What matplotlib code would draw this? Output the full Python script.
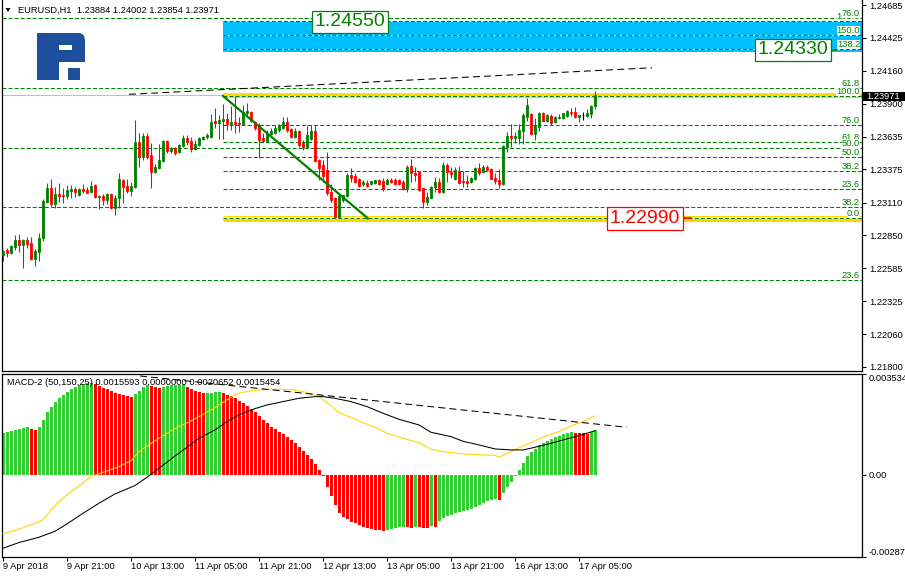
import numpy as np
import matplotlib
matplotlib.use("Agg")
import matplotlib.pyplot as plt
from matplotlib.patches import Polygon, Rectangle

plt.rcParams['font.family'] = ['Liberation Sans', 'DejaVu Sans']
plt.rcParams['lines.scale_dashes'] = False

W, H = 905, 578

# ---- EURUSD H1 candles, 9 Apr 05:00 .. 17 Apr 09:00 ----
opens = [
    1.22693, 1.22733, 1.22709, 1.22756, 1.22812, 1.22772, 1.22812, 1.22788, 1.22661, 1.22717,
    1.22828, 1.23115, 1.23227, 1.23099, 1.23179, 1.23171, 1.23163, 1.23203, 1.23219, 1.23171,
    1.23219, 1.23211, 1.23195, 1.23251, 1.23155, 1.23163, 1.23131, 1.23179, 1.23067, 1.23147,
    1.23290, 1.23243, 1.23203, 1.23235, 1.23593, 1.23474, 1.23641, 1.23490, 1.23354, 1.23386,
    1.23442, 1.23601, 1.23522, 1.23545, 1.23514, 1.23561, 1.23625, 1.23601, 1.23537, 1.23569,
    1.23617, 1.23633, 1.23633, 1.23761, 1.23745, 1.23761, 1.23776, 1.23737, 1.23753, 1.23745,
    1.23737, 1.23824, 1.23832, 1.23753, 1.23729, 1.23625, 1.23601, 1.23657, 1.23665, 1.23689,
    1.23705, 1.23753, 1.23697, 1.23633, 1.23681, 1.23585, 1.23553, 1.23617, 1.23681, 1.23450,
    1.23410, 1.23370, 1.23195, 1.23147, 1.22995, 1.23131, 1.23163, 1.23330, 1.23322, 1.23298,
    1.23258, 1.23266, 1.23258, 1.23266, 1.23290, 1.23282, 1.23258, 1.23290, 1.23290, 1.23290,
    1.23274, 1.23227, 1.23402, 1.23346, 1.23354, 1.23227, 1.23115, 1.23147, 1.23235, 1.23274,
    1.23195, 1.23410, 1.23354, 1.23298, 1.23362, 1.23282, 1.23282, 1.23274, 1.23298, 1.23386,
    1.23354, 1.23394, 1.23378, 1.23306, 1.23290, 1.23258, 1.23553, 1.23641, 1.23625, 1.23625,
    1.23681, 1.23792, 1.23816, 1.23657, 1.23713, 1.23824, 1.23761, 1.23800, 1.23753, 1.23784,
    1.23784, 1.23800, 1.23832, 1.23832, 1.23792, 1.23808, 1.23800, 1.23816, 1.23884,
]
highs = [
    1.22733, 1.22748, 1.22772, 1.22852, 1.22860, 1.22820, 1.22836, 1.22836, 1.22740, 1.22868,
    1.23139, 1.23266, 1.23298, 1.23235, 1.23266, 1.23227, 1.23251, 1.23251, 1.23235, 1.23227,
    1.23258, 1.23235, 1.23282, 1.23258, 1.23171, 1.23179, 1.23187, 1.23187, 1.23171, 1.23346,
    1.23298, 1.23298, 1.23274, 1.23769, 1.23665, 1.23665, 1.23665, 1.23585, 1.23418, 1.23577,
    1.23609, 1.23609, 1.23553, 1.23553, 1.23577, 1.23649, 1.23649, 1.23633, 1.23609, 1.23633,
    1.23641, 1.23665, 1.23816, 1.23864, 1.23808, 1.23896, 1.23824, 1.23880, 1.23960, 1.23792,
    1.23888, 1.23904, 1.23840, 1.23761, 1.23745, 1.23665, 1.23689, 1.23705, 1.23729, 1.23737,
    1.23792, 1.23792, 1.23705, 1.23705, 1.23689, 1.23609, 1.23729, 1.23729, 1.23729, 1.23458,
    1.23450, 1.23514, 1.23258, 1.23155, 1.23187, 1.23171, 1.23346, 1.23386, 1.23346, 1.23306,
    1.23290, 1.23290, 1.23282, 1.23290, 1.23298, 1.23306, 1.23306, 1.23306, 1.23306, 1.23298,
    1.23290, 1.23410, 1.23458, 1.23394, 1.23362, 1.23227, 1.23195, 1.23243, 1.23314, 1.23306,
    1.23434, 1.23426, 1.23394, 1.23394, 1.23402, 1.23362, 1.23330, 1.23314, 1.23394, 1.23426,
    1.23410, 1.23410, 1.23386, 1.23346, 1.23378, 1.23569, 1.23673, 1.23737, 1.23673, 1.23737,
    1.23824, 1.23944, 1.23824, 1.23784, 1.23832, 1.23832, 1.23816, 1.23816, 1.23800, 1.23816,
    1.23824, 1.23848, 1.23864, 1.23872, 1.23808, 1.23832, 1.23856, 1.23888, 1.24002,
]
lows = [
    1.22645, 1.22677, 1.22701, 1.22733, 1.22717, 1.22589, 1.22748, 1.22653, 1.22605, 1.22645,
    1.22804, 1.23107, 1.23083, 1.23067, 1.23115, 1.23107, 1.23139, 1.23147, 1.23155, 1.23163,
    1.23187, 1.23187, 1.23187, 1.23147, 1.23059, 1.23091, 1.23099, 1.23059, 1.23011, 1.23067,
    1.23107, 1.23187, 1.23163, 1.23227, 1.23394, 1.23450, 1.23458, 1.23227, 1.23346, 1.23378,
    1.23434, 1.23506, 1.23506, 1.23490, 1.23506, 1.23553, 1.23569, 1.23514, 1.23530, 1.23561,
    1.23609, 1.23617, 1.23625, 1.23705, 1.23617, 1.23617, 1.23689, 1.23689, 1.23665, 1.23673,
    1.23729, 1.23808, 1.23753, 1.23689, 1.23466, 1.23593, 1.23593, 1.23649, 1.23657, 1.23673,
    1.23697, 1.23673, 1.23625, 1.23625, 1.23553, 1.23530, 1.23545, 1.23609, 1.23434, 1.23290,
    1.23274, 1.23171, 1.23115, 1.22987, 1.22987, 1.23115, 1.23155, 1.23274, 1.23266, 1.23235,
    1.23243, 1.23235, 1.23251, 1.23258, 1.23251, 1.23203, 1.23251, 1.23266, 1.23251, 1.23251,
    1.23211, 1.23195, 1.23274, 1.23282, 1.23203, 1.23067, 1.23091, 1.23147, 1.23195, 1.23187,
    1.23187, 1.23274, 1.23306, 1.23290, 1.23258, 1.23235, 1.23235, 1.23266, 1.23290, 1.23330,
    1.23346, 1.23362, 1.23298, 1.23258, 1.23227, 1.23251, 1.23514, 1.23553, 1.23585, 1.23577,
    1.23577, 1.23761, 1.23649, 1.23609, 1.23681, 1.23761, 1.23753, 1.23729, 1.23745, 1.23776,
    1.23776, 1.23792, 1.23800, 1.23784, 1.23753, 1.23769, 1.23792, 1.23784, 1.23854,
]
closes = [
    1.22725, 1.22709, 1.22764, 1.22812, 1.22772, 1.22812, 1.22780, 1.22661, 1.22725, 1.22828,
    1.23123, 1.23227, 1.23099, 1.23179, 1.23163, 1.23163, 1.23211, 1.23219, 1.23195, 1.23219,
    1.23203, 1.23187, 1.23243, 1.23155, 1.23163, 1.23131, 1.23179, 1.23067, 1.23147, 1.23298,
    1.23235, 1.23203, 1.23243, 1.23593, 1.23474, 1.23641, 1.23474, 1.23354, 1.23394, 1.23450,
    1.23601, 1.23522, 1.23545, 1.23506, 1.23569, 1.23625, 1.23593, 1.23537, 1.23577, 1.23625,
    1.23633, 1.23649, 1.23753, 1.23745, 1.23769, 1.23776, 1.23737, 1.23753, 1.23737, 1.23737,
    1.23832, 1.23840, 1.23761, 1.23705, 1.23609, 1.23601, 1.23665, 1.23681, 1.23705, 1.23721,
    1.23753, 1.23689, 1.23633, 1.23681, 1.23569, 1.23553, 1.23649, 1.23681, 1.23442, 1.23386,
    1.23322, 1.23187, 1.23131, 1.22995, 1.23163, 1.23171, 1.23330, 1.23306, 1.23274, 1.23243,
    1.23274, 1.23243, 1.23282, 1.23290, 1.23258, 1.23219, 1.23290, 1.23274, 1.23258, 1.23258,
    1.23219, 1.23394, 1.23346, 1.23330, 1.23211, 1.23115, 1.23155, 1.23235, 1.23274, 1.23195,
    1.23410, 1.23354, 1.23338, 1.23370, 1.23266, 1.23274, 1.23266, 1.23306, 1.23386, 1.23346,
    1.23394, 1.23370, 1.23298, 1.23282, 1.23258, 1.23561, 1.23641, 1.23625, 1.23641, 1.23689,
    1.23808, 1.23888, 1.23657, 1.23729, 1.23824, 1.23761, 1.23808, 1.23745, 1.23792, 1.23792,
    1.23824, 1.23840, 1.23824, 1.23792, 1.23808, 1.23808, 1.23824, 1.23880, 1.23971,
]

# ---- MACD-2 (50,150,25) ----
macd_hist = [
    0.001458, 0.001493, 0.001528, 0.001563, 0.001598, 0.001633, 0.001668, 0.001622, 0.001587, 0.001668,
    0.001925, 0.002217, 0.002392, 0.002543, 0.002683, 0.002800, 0.002905, 0.002998, 0.003068, 0.003138,
    0.003185, 0.003208, 0.003232, 0.003185, 0.003115, 0.003057, 0.003010, 0.002952, 0.002882, 0.002835,
    0.002800, 0.002765, 0.002718, 0.002835, 0.002952, 0.003068, 0.003150, 0.003127, 0.003092, 0.003057,
    0.003092, 0.003115, 0.003138, 0.003150, 0.003162, 0.003185, 0.003092, 0.003022, 0.002952, 0.002905,
    0.002858, 0.002870, 0.002882, 0.002893, 0.002905, 0.002858, 0.002812, 0.002753, 0.002683, 0.002602,
    0.002520, 0.002427, 0.002322, 0.002205, 0.002065, 0.001925, 0.001808, 0.001692, 0.001598, 0.001517,
    0.001435, 0.001342, 0.001225, 0.001108, 0.000968, 0.000828, 0.000688, 0.000548, 0.000385, 0.000175,
    -0.000035, -0.000408, -0.000735, -0.001050, -0.001318, -0.001458, -0.001552, -0.001633, -0.001692, -0.001762,
    -0.001808, -0.001855, -0.001890, -0.001913, -0.001925, -0.001948, -0.001937, -0.001902, -0.001867, -0.001832,
    -0.001808, -0.001832, -0.001855, -0.001808, -0.001832, -0.001855, -0.001867, -0.001785, -0.001808, -0.001598,
    -0.001517, -0.001435, -0.001388, -0.001342, -0.001307, -0.001272, -0.001237, -0.001202, -0.001132, -0.001050,
    -0.000968, -0.000898, -0.000863, -0.000840, -0.000875, -0.000642, -0.000408, -0.000233, -0.000035, 0.000175,
    0.000408, 0.000665, 0.000805, 0.000898, 0.001038, 0.001132, 0.001202, 0.001272, 0.001330, 0.001377,
    0.001423, 0.001458, 0.001493, 0.001482, 0.001470, 0.001458, 0.001447, 0.001505, 0.0015593,
]
yellow_bar = [0, 4, 8, 10, 12, 14, 16, 19, 22, 26, 29, 32, 34, 37, 39, 42, 44, 47, 49, 52, 54, 57, 59,
              62, 66, 70, 73, 75, 77, 79, 81, 84, 87, 90, 93, 96, 100, 104, 107, 110, 115, 120, 123,
              124, 127, 130, 133, 136, 139, 142, 145, 148]
yellow_val = [-0.002065, -0.001902, -0.001692, -0.001575, -0.001225, -0.000933, -0.000700, -0.000385,
              -0.000058, 0.000140, 0.000292, 0.000502, 0.000817, 0.001108, 0.001283, 0.001540, 0.001692,
              0.001890, 0.002042, 0.002275, 0.002450, 0.002718, 0.002858, 0.002952, 0.002998, 0.002998,
              0.002975, 0.002917, 0.002835, 0.002742, 0.002532, 0.002182, 0.002018, 0.001832, 0.001668,
              0.001458, 0.001283, 0.001132, 0.000898, 0.000817, 0.000735, 0.000700, 0.000688, 0.000618,
              0.000817, 0.001015, 0.001202, 0.001377, 0.001517, 0.001715, 0.001867, 0.0020652]
black_bar = [0, 4, 9, 13, 16, 20, 24, 28, 33, 36, 39, 43, 46, 49, 53, 56, 59, 63, 66, 70, 74, 78, 80,
             83, 87, 91, 95, 99, 104, 107, 112, 115, 119, 123, 127, 130, 133, 137, 140, 144, 148]
black_val = [-0.002567, -0.002368, -0.002182, -0.001972, -0.001715, -0.001342, -0.000992, -0.000665,
             -0.000373, -0.000082, 0.000233, 0.000665, 0.000968, 0.001283, 0.001575, 0.001867, 0.002100,
             0.002322, 0.002450, 0.002567, 0.002683, 0.002742, 0.002742, 0.002683, 0.002567, 0.002392,
             0.002158, 0.001948, 0.001750, 0.001493, 0.001342, 0.001178, 0.001050, 0.000910, 0.000875,
             0.000875, 0.000968, 0.001108, 0.001225, 0.001377, 0.0015454]

# ---- chart objects ----
fib1_levels = ["0.0", "23.6", "38.2", "50.0", "61.8", "76.0", "100.0", "138.2", "150.0", "161.8"]
fib1_prices = [1.22990, 1.23219, 1.23361, 1.23475, 1.23590, 1.23727, 1.23960, 1.24331, 1.24445, 1.24560]
fib2_levels = ["23.6", "38.2", "50.0", "61.8", "76.0"]
fib2_prices = [1.22491, 1.23073, 1.23543, 1.24020, 1.24585]
fib1_start = 55
target_zone = (1.24313, 1.24555)
yellow_top = (1.23972, 1.23955)
yellow_bottom = (1.23000, 1.22972)
green_trend = ([55, 91.2], [1.23960, 1.22985])
black_trend = ([31.5, 162.25], [1.23973, 1.24185])
macd_trend = ([34.25, 155.9], [0.003465, 0.001670])
targets = [("1.24550", 86.75, 1.24550, "#008000"),
           ("1.24330", 197.4, 1.24327, "#008000"),
           ("1.22990", 160.4, 1.22985, "#ff0000")]
price_ticks = [1.24685, 1.24425, 1.24160, 1.23900, 1.23635, 1.23375,
               1.23110, 1.22850, 1.22585, 1.22325, 1.22060, 1.21800]
date_bars = [0, 16, 32, 48, 64, 80, 96, 112, 128, 144]
date_labels = ["9 Apr 2018", "9 Apr 21:00", "10 Apr 13:00", "11 Apr 05:00", "11 Apr 21:00",
               "12 Apr 13:00", "13 Apr 05:00", "13 Apr 21:00", "16 Apr 13:00", "17 Apr 05:00"]

GREEN = "#008000"
RED = "#ff0000"
LIME = "#32cd32"
GOLD = "#ffd700"
FS = 6.7


def px_rect(x0, y0, x1, y1):
    return [x0 / W, 1 - y1 / H, (x1 - x0) / W, (y1 - y0) / H]


fig = plt.figure(figsize=(W / 100, H / 100), dpi=100)
ax = fig.add_axes(px_rect(2, 0, 862, 371))
ax2 = fig.add_axes(px_rect(2, 374, 862, 557))
XMIN, XMAX = -0.25, 214.75

# ---- main price panel ----
o, h, l, c = map(np.array, (opens, highs, lows, closes))
x = np.arange(len(c))
cols = np.where(c > o, GREEN, np.where(c < o, RED, "black"))

ax.axhline(closes[-1], color="#c0c0c0", lw=0.75, zorder=1)
ax.add_patch(Rectangle((fib1_start, target_zone[0]), XMAX - fib1_start,
                       target_zone[1] - target_zone[0], facecolor="#00bfff",
                       edgecolor="none", zorder=1.2))

dash = (0, (2.9, 1.45))
for p in fib2_prices:
    ax.hlines(p, XMIN, XMAX, colors="white", lw=0.75, zorder=1.5)
    ax.hlines(p, XMIN, XMAX, colors=GREEN, lw=0.75, linestyles=[dash], zorder=1.6)
for p in fib1_prices:
    ax.hlines(p, fib1_start, XMAX, colors="white", lw=0.75, zorder=1.5)
    ax.hlines(p, fib1_start, XMAX, colors=GREEN, lw=0.75, linestyles=[dash], zorder=1.6)

ax.hlines(yellow_top[0], fib1_start, XMAX, colors=GOLD, lw=1.9, zorder=1.7)
ax.hlines(yellow_top[1], fib1_start, XMAX, colors=GOLD, lw=0.75, zorder=1.7)
ax.hlines(yellow_bottom[0], fib1_start, XMAX, colors=GOLD, lw=0.75, zorder=1.7)
ax.hlines(yellow_bottom[1], fib1_start, XMAX, colors=GOLD, lw=2.2, zorder=1.7)

ax.vlines(x, l, h, colors=cols, lw=0.75, zorder=3)
ax.bar(x, np.abs(c - o), width=0.6, bottom=np.minimum(o, c), color=cols,
       edgecolor=cols, linewidth=0.6, zorder=3)

ax.plot(*green_trend, color=GREEN, lw=1.6, zorder=4)
ax.plot(*black_trend, color="black", lw=0.75, dashes=(5, 3), zorder=4)

for lab, p in zip(fib1_levels, fib1_prices):
    ax.text(214.25, p, lab, ha="right", va="bottom", fontsize=FS, color=GREEN, zorder=5,
            bbox=dict(boxstyle="square,pad=0", fc="white", ec="none"))
for lab, p in zip(fib2_levels, fib2_prices):
    ax.text(214.25, p, lab, ha="right", va="bottom", fontsize=FS, color=GREEN, zorder=5.5,
            bbox=dict(boxstyle="square,pad=0", fc="white", ec="none"))

ax.hlines(1.24330, 206.8, 208.5, colors=GREEN, lw=1.2, zorder=5)
ax.hlines(1.22985, 169.8, 172.3, colors=RED, lw=1.2, zorder=5)
for txt, bx, by, col in targets:
    ax.text(bx, by, txt, ha="center", va="center", fontsize=14, color=col, zorder=6,
            bbox=dict(boxstyle="square,pad=0.14", fc="white", ec=col, lw=0.9))

ax.set_xlim(XMIN, XMAX)
ax.set_ylim(1.21768, 1.24725)
ax.set_xticks([])
ax.yaxis.tick_right()
ax.set_yticks(price_ticks)
ax.set_yticklabels([f"{t:.5f}" for t in price_ticks])
ax.tick_params(axis="y", direction="out", length=3, width=0.75, labelsize=FS, pad=2)
ax.spines["top"].set_visible(False)
for s in ("left", "right", "bottom"):
    ax.spines[s].set_linewidth(0.9)

# ---- MACD panel ----
hist = np.array(macd_hist)
hcols = [LIME if i == 0 or hist[i] >= hist[i - 1] else RED for i in range(len(hist))]
ax2.bar(x, hist, width=0.75, color=hcols, linewidth=0, zorder=2)
ax2.plot(yellow_bar, yellow_val, color=GOLD, lw=0.8, zorder=3)
ax2.plot(black_bar, black_val, color="black", lw=0.75, zorder=3)
ax2.plot(*macd_trend, color="black", lw=0.75, dashes=(5, 3), zorder=3)

ax2.set_xlim(XMIN, XMAX)
ax2.set_ylim(-0.002874, 0.003534)
ax2.yaxis.tick_right()
ax2.set_yticks([0.003534, 0.0, -0.002874])
ax2.set_yticklabels(["0.003534", "0.00", "-0.002874"])
ax2.tick_params(axis="y", direction="out", length=3, width=0.75, labelsize=FS, pad=2)
tl = ax2.get_yticklabels()
tl[0].set_va("top")
tl[2].set_va("bottom")
ax2.set_xticks(date_bars)
ax2.set_xticklabels(date_labels, ha="left")
ax2.tick_params(axis="x", direction="out", length=3, width=0.75, labelsize=FS, pad=0.5)
for s in ax2.spines.values():
    s.set_linewidth(0.9)

# ---- header texts, price box, logo (pixel overlay) ----
ov = fig.add_axes([0, 0, 1, 1], zorder=10)
ov.set_xlim(0, W)
ov.set_ylim(H, 0)
ov.axis("off")
ov.add_patch(Polygon([(5.5, 8), (10.5, 8), (8, 12)], closed=True, fc="black", ec="none"))
ov.text(18, 10, "EURUSD,H1  1.23884 1.24002 1.23854 1.23971", fontsize=FS, va="center")
ov.text(7, 382.5, "MACD-2 (50,150,25) 0.0015593 0.0000000 0.0020652 0.0015454",
        fontsize=FS, va="center")
ov.add_patch(Rectangle((863, 92), 42, 9, fc="black", ec="none"))
ov.text(866, 96.5, "1.23971", fontsize=FS, color="white", va="center")

logo_col = "#1d4f9c"
ov.add_patch(Polygon([(37, 33), (80, 33), (83, 34.5), (84.5, 37), (85, 40), (85, 62),
                      (59, 62), (59, 80), (37, 80)], closed=True, fc=logo_col, ec="none"))
ov.add_patch(Rectangle((59, 45), 13, 5, fc="white", ec="none"))
ov.add_patch(Rectangle((68, 68), 12, 12, fc=logo_col, ec="none"))

fig.savefig("out.png", dpi=100)
